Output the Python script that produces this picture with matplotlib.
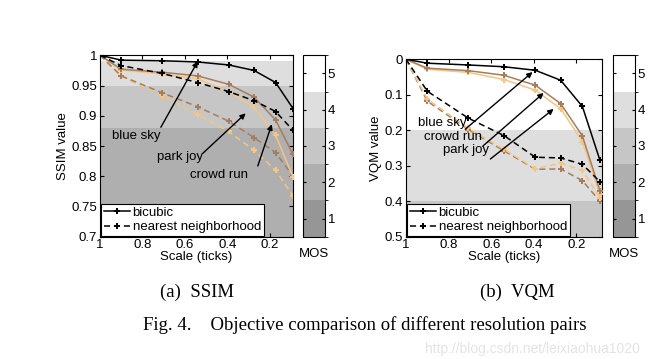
import matplotlib
matplotlib.use("Agg")
import matplotlib.pyplot as plt
import numpy as np
from matplotlib.colors import ListedColormap, BoundaryNorm
import matplotlib.cm as cm

plt.rcParams['font.family'] = ['Liberation Sans', 'DejaVu Sans']

# ---------------- data ----------------
scales = [1.0, 0.9, 0.707, 0.54, 0.393, 0.274, 0.172, 0.09]

ssim_bluesky_bicubic = [1.0, 0.992, 0.991, 0.989, 0.984, 0.975, 0.955, 0.912]
ssim_bluesky_nearest = [1.0, 0.983, 0.970, 0.955, 0.940, 0.925, 0.907, 0.876]
ssim_crowdrun_bicubic = [1.0, 0.977, 0.972, 0.966, 0.952, 0.931, 0.893, 0.836]
ssim_crowdrun_nearest = [1.0, 0.966, 0.938, 0.915, 0.891, 0.864, 0.839, 0.800]
ssim_parkjoy_bicubic = [1.0, 0.976, 0.969, 0.961, 0.940, 0.914, 0.868, 0.799]
ssim_parkjoy_nearest = [1.0, 0.965, 0.933, 0.902, 0.874, 0.843, 0.810, 0.767]

vqm_bluesky_bicubic = [0.0, 0.011, 0.016, 0.021, 0.031, 0.059, 0.133, 0.284]
vqm_bluesky_nearest = [0.0, 0.090, 0.166, 0.215, 0.276, 0.278, 0.296, 0.345]
vqm_crowdrun_bicubic = [0.0, 0.025, 0.032, 0.045, 0.073, 0.125, 0.216, 0.370]
vqm_crowdrun_nearest = [0.0, 0.118, 0.198, 0.258, 0.310, 0.309, 0.342, 0.400]
vqm_parkjoy_bicubic = [0.0, 0.028, 0.037, 0.057, 0.087, 0.139, 0.232, 0.380]
vqm_parkjoy_nearest = [0.0, 0.112, 0.195, 0.254, 0.308, 0.293, 0.313, 0.390]

mos_levels = [1, 2, 3, 4, 5]
mos_colors = ['#969696', '#afafaf', '#c6c6c6', '#dedede', '#ffffff']

# background MOS bands (lower, upper, mos level)
ssim_bands = [(0.70, 0.88, 2), (0.88, 0.95, 3), (0.95, 0.99, 4), (0.99, 1.00, 5)]
vqm_bands = [(0.0, 0.2, 5), (0.2, 0.4, 4), (0.4, 0.5, 3)]

xticks = [1, 0.8, 0.6, 0.4, 0.2]
ssim_ticks = [0.7, 0.75, 0.8, 0.85, 0.9, 0.95, 1]
vqm_ticks = [0, 0.1, 0.2, 0.3, 0.4, 0.5]

c_blue = '#000000'
c_crowd = '#a77d5c'
c_park = '#f4c584'

W, H = 666, 359
fig = plt.figure(figsize=(W / 100, H / 100), dpi=100)

MK = dict(marker='P', ms=3.8, mew=0.0)


def rect(x0, x1, ytop, ybot):
    return [x0 / W, 1 - ybot / H, (x1 - x0) / W, (ybot - ytop) / H]


def draw_panel(ax, series, bands, yticks, ylim, ylabel, annots, xmin):
    for lo, hi, lev in bands:
        ax.axhspan(lo, hi, color=mos_colors[lev - 1], zorder=0, lw=0)
    for vals, col, ls, z in series:
        ax.plot(scales, vals, color=col, ls=ls, lw=1.1, mfc=col, zorder=z,
                dashes=(4, 2.5) if ls == '--' else (None, None), **MK)
    ax.set_xlim(1, xmin)
    ax.set_ylim(*ylim)
    ax.set_xticks(xticks)
    ax.set_xticklabels(['1', '0.8', '0.6', '0.4', '0.2'])
    ax.set_yticks(yticks)
    ax.set_yticklabels([('%g' % t) for t in yticks])
    ax.tick_params(direction='in', top=True, right=True, labelsize=9.5, length=3, pad=2)
    ax.set_xlabel('Scale (ticks)', fontsize=9.5, labelpad=0)
    ax.set_ylabel(ylabel, fontsize=9.5, labelpad=2)
    for txt, xy, xytext, tpos in annots:
        ax.annotate('', xy=xy, xytext=xytext,
                    arrowprops=dict(arrowstyle='-|>', color='black', lw=1.0,
                                    mutation_scale=8, shrinkA=0, shrinkB=0), zorder=6)
        ax.text(tpos[0], tpos[1], txt, fontsize=9.5, ha='center', va='center', zorder=7)
    h1, = ax.plot([], [], color='black', lw=1.1, **MK)
    h2, = ax.plot([], [], color='black', lw=1.1, ls='--', dashes=(4, 2.5), **MK)
    leg = ax.legend([h1, h2], ['bicubic', 'nearest neighborhood'], loc='lower left',
                    bbox_to_anchor=(0.005, 0.005), fontsize=9.5, frameon=True, fancybox=False,
                    edgecolor='black', framealpha=1, handlelength=2.0, handletextpad=0.2,
                    borderpad=0.2, labelspacing=0.15, borderaxespad=0.0)
    leg.get_frame().set_linewidth(0.8)
    leg.set_zorder(8)


def draw_cbar(cax):
    cmap = ListedColormap(mos_colors)
    norm = BoundaryNorm([0.5, 1.5, 2.5, 3.5, 4.5, 5.5], cmap.N)
    cb = fig.colorbar(cm.ScalarMappable(norm=norm, cmap=cmap), cax=cax, ticks=mos_levels)
    cb.outline.set_linewidth(0.8)
    cax.tick_params(direction='in', labelsize=9.5, length=2, pad=2, left=True)
    cax.text(0.5, -0.06, 'MOS', transform=cax.transAxes, ha='center', va='top', fontsize=9.5)


# ---------------- SSIM ----------------
ax1 = fig.add_axes(rect(100, 293, 55.3, 236.7))
ssim_series = [
    (ssim_parkjoy_nearest, c_park, '--', 2),
    (ssim_crowdrun_nearest, c_crowd, '--', 2),
    (ssim_parkjoy_bicubic, c_park, '-', 3),
    (ssim_crowdrun_bicubic, c_crowd, '-', 3),
    (ssim_bluesky_nearest, c_blue, '--', 4),
    (ssim_bluesky_bicubic, c_blue, '-', 5),
]
ssim_annots = [
    ('blue sky', (0.539, 0.990), (0.713, 0.881), (0.83, 0.866)),
    ('park joy', (0.313, 0.904), (0.515, 0.838), (0.624, 0.832)),
    ('crowd run', (0.19, 0.886), (0.256, 0.817), (0.44, 0.802)),
]
draw_panel(ax1, ssim_series, ssim_bands, ssim_ticks, (0.7, 1.0), 'SSIM value', ssim_annots, 0.09)
cax1 = fig.add_axes(rect(303, 325, 55.3, 236.7))
draw_cbar(cax1)

# ---------------- VQM ----------------
ax2 = fig.add_axes(rect(406, 602, 59.3, 236.7))
vqm_series = [
    (vqm_crowdrun_nearest, c_crowd, '--', 2),
    (vqm_parkjoy_nearest, c_park, '--', 2),
    (vqm_parkjoy_bicubic, c_park, '-', 3),
    (vqm_crowdrun_bicubic, c_crowd, '-', 3),
    (vqm_bluesky_nearest, c_blue, '--', 4),
    (vqm_bluesky_bicubic, c_blue, '-', 5),
]
vqm_annots = [
    ('blue sky', (0.406, 0.036), (0.722, 0.197), (0.83, 0.18)),
    ('crowd run', (0.354, 0.095), (0.64, 0.245), (0.78, 0.219)),
    ('park joy', (0.307, 0.140), (0.604, 0.281), (0.72, 0.256)),
]
draw_panel(ax2, vqm_series, vqm_bands, vqm_ticks, (0.5, 0.0), 'VQM value', vqm_annots, 0.08)
cax2 = fig.add_axes(rect(613, 635, 55.3, 236.7))
draw_cbar(cax2)

# ---------------- captions ----------------
serif = ['Liberation Serif', 'DejaVu Serif']
fig.text(197 / W, 1 - 292 / H, '(a)  SSIM', family=serif, fontsize=13.5, ha='center', va='center')
fig.text(517 / W, 1 - 292 / H, '(b)  VQM', family=serif, fontsize=13.5, ha='center', va='center')
fig.text(143 / W, 1 - 325 / H, 'Fig. 4.    Objective comparison of different resolution pairs',
         family=serif, fontsize=13.5, ha='left', va='center')
fig.text(640 / W, 1 - 349 / H, 'http://blog.csdn.net/leixiaohua1020', fontsize=10,
         color='#e4e4e4', ha='right', va='center')

fig.savefig('out.png', dpi=100)
